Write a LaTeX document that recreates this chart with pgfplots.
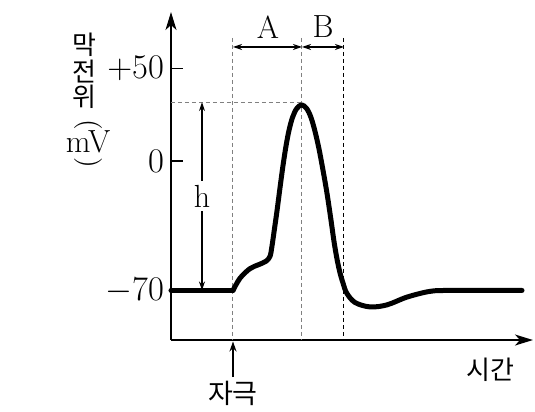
\documentclass[border=0pt]{standalone}
\usepackage{fontspec}
\usepackage{pgfplots}
\pgfplotsset{compat=1.18}
\usetikzlibrary{arrows.meta}
\newfontfamily\kr{Noto Sans CJK KR}
\begin{document}
\begin{tikzpicture}
\begin{axis}[
 x=0.5pt, y=0.925pt,
 xmin=0, xmax=362, ymin=-96.8, ymax=80.5,
 axis lines=left,
 axis line style={line width=0.8pt, -{Stealth[length=9pt,width=5.5pt,inset=2.5pt]}},
 xtick=\empty,
 ytick={-70,0,50},
 yticklabels={$-70$,$0$,$+50$},
 tick align=inside,
 major tick length=6pt,
 tick style={line width=0.6pt, black},
 ticklabel style={font=\fontsize{16}{18}\selectfont},
 clip=false,
]
\path (axis cs:-171,-135.1) rectangle (axis cs:364,87.0);
% guide lines
\draw[gray, line width=0.5pt, dash pattern=on 2pt off 1.5pt] (axis cs:62,66.5) -- (axis cs:62,-96.8);
\draw[gray, line width=0.5pt, dash pattern=on 2pt off 1.5pt] (axis cs:131,66.5) -- (axis cs:131,-96.8);
\draw[black, line width=0.5pt, dash pattern=on 2pt off 1.5pt] (axis cs:173,66.5) -- (axis cs:173,-96.8);
\draw[gray, line width=0.5pt, dash pattern=on 2pt off 1.5pt] (axis cs:0,31.8) -- (axis cs:131,31.8);
% curve
\addplot[line width=2.5pt, line cap=round, line join=round] coordinates {(0,-70) (62,-70)};
\addplot[line width=2.5pt, smooth, tension=0.55, line cap=round, line join=round] coordinates {
(62,-70) (69,-63.4) (79,-58.2) (88,-56) (95,-54.2) (99,-51.6) (101,-46) (103,-38.5)
(106,-27) (109,-14.5) (112,-2.5) (115,8) (118,16.5) (121.5,23.5) (125.7,28.3)
(130.7,30.3) (135.7,28.3) (140,23.5) (144,16) (148,6.5) (152,-5) (156,-17.5)
(160,-32) (163,-43.5) (166,-53) (169,-60.5) (172,-66) (175.7,-71.4) (184,-76.5)
(199,-78.9) (216,-77.8) (236,-73.6) (259,-70.5) (280,-70) (351,-70)};
% A, B arrows
\draw[line width=0.6pt, {Stealth[length=4.5pt,width=3pt]}-{Stealth[length=4.5pt,width=3pt]}] (axis cs:62,61.6) -- (axis cs:131,61.6);
\draw[line width=0.6pt, {Stealth[length=4.5pt,width=3pt]}-{Stealth[length=4.5pt,width=3pt]}] (axis cs:131,61.6) -- (axis cs:173,61.6);
\node[font=\fontsize{16}{18}\selectfont] at (axis cs:97,72.4) {A};
\node[font=\fontsize{16}{18}\selectfont] at (axis cs:152,72.4) {B};
% h arrow
\draw[line width=0.6pt, {Stealth[length=4.5pt,width=3pt]}-{Stealth[length=4.5pt,width=3pt]}] (axis cs:31,31.8) -- (axis cs:31,-70)
  node[pos=0.5, fill=white, inner sep=2pt, font=\fontsize{16}{18}\selectfont] {h};
% stimulus arrow
\draw[line width=0.6pt, -{Stealth[length=5pt,width=3.5pt]}] (axis cs:62,-116.8) -- (axis cs:62,-97.6);
\node[font=\kr\fontsize{13.5}{15}\selectfont] at (axis cs:62,-125.4) {자극};
\node[font=\kr\fontsize{13}{15}\selectfont] at (axis cs:319,-113) {시간};
% y label
\node[font=\kr\fontsize{13}{15}\selectfont] at (axis cs:-87,62.7) {막};
\node[font=\kr\fontsize{13}{15}\selectfont] at (axis cs:-87,48.1) {전};
\node[font=\kr\fontsize{13}{15}\selectfont] at (axis cs:-87,34.6) {위};
\node[rotate=-90, font=\fontsize{14}{15}\selectfont, inner sep=0pt] at (axis cs:-83,19.5) {(};
\node[font=\fontsize{16}{18}\selectfont, inner sep=0pt] at (axis cs:-83,10.3) {mV};
\node[rotate=-90, font=\fontsize{14}{15}\selectfont, inner sep=0pt] at (axis cs:-83,-1.1) {)};
\end{axis}
\end{tikzpicture}
\end{document}
